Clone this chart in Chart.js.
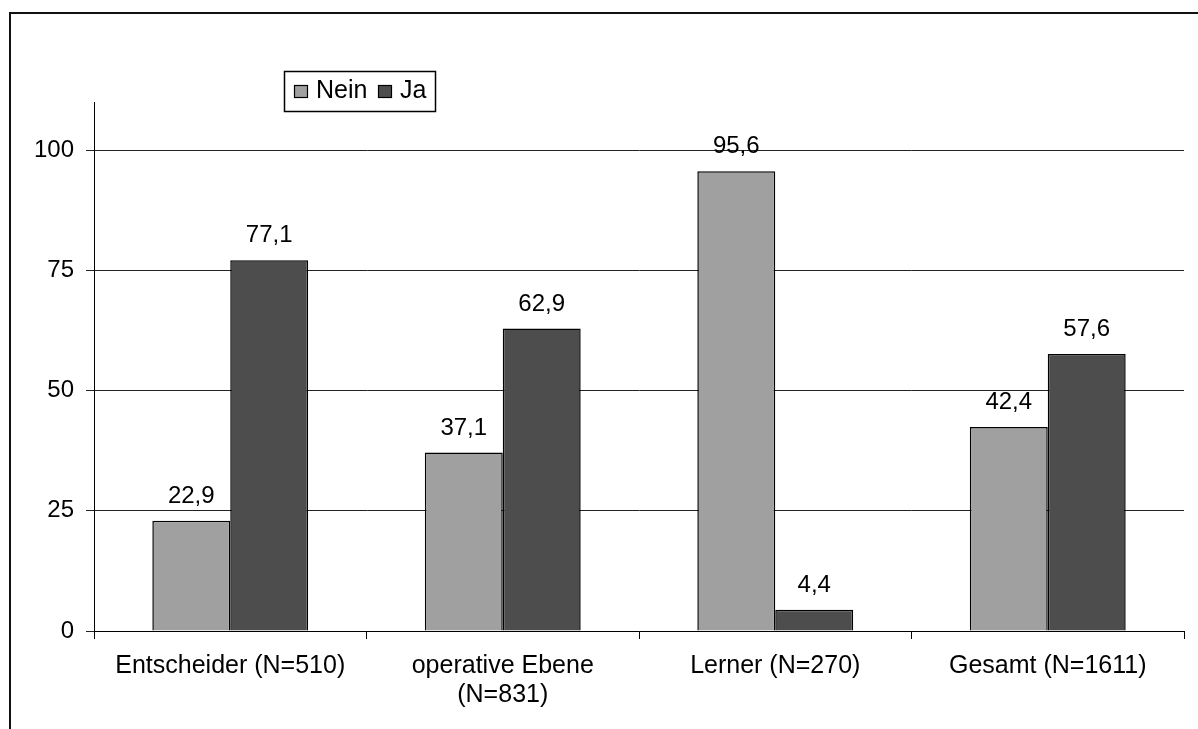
<!DOCTYPE html>
<html>
<head>
<meta charset="utf-8">
<script src="https://cdn.jsdelivr.net/npm/chart.js@4/dist/chart.umd.min.js"></script>
<style>
  html, body { margin: 0; padding: 0; background: #fff; }
  #wrap { position: relative; width: 1198px; height: 729px; overflow: hidden; }
  #frame {
    position: absolute; left: 9px; top: 12px; width: 1300px; height: 800px;
    border-top: 2px solid #111; border-left: 2px solid #111;
  }
  canvas { position: absolute; left: 0; top: 0; }
</style>
</head>
<body>
<div id="wrap">
  <div id="frame"></div>
  <canvas id="umfrageChart" width="1198" height="729"></canvas>
</div>
<script>
  const categories = [
    'Entscheider (N=510)',
    ['operative Ebene', '(N=831)'],
    'Lerner (N=270)',
    'Gesamt (N=1611)'
  ];
  const neinValues = [22.9, 37.1, 95.6, 42.4];
  const jaValues = [77.1, 62.9, 4.4, 57.6];
  const yTicks = [0, 25, 50, 75, 100];

  const FONT = '"Liberation Sans", Arial, sans-serif';

  // value above every bar, decimal comma
  const barLabels = {
    id: 'barLabels',
    afterDatasetsDraw(chart) {
      const ctx = chart.ctx;
      ctx.save();
      ctx.font = '24px ' + FONT;
      ctx.fillStyle = '#000';
      ctx.textAlign = 'center';
      ctx.textBaseline = 'alphabetic';
      chart.data.datasets.forEach((ds, i) => {
        chart.getDatasetMeta(i).data.forEach((bar, j) => {
          const txt = ds.data[j].toFixed(1).replace('.', ',');
          ctx.fillText(txt, bar.x, bar.y - 18);
        });
      });
      ctx.restore();
    }
  };

  // boxed legend inside the plot
  const boxLegend = {
    id: 'boxLegend',
    afterDraw(chart) {
      const ctx = chart.ctx;
      ctx.save();
      ctx.lineWidth = 1.5;
      ctx.strokeStyle = '#000';
      ctx.fillStyle = '#fff';
      ctx.fillRect(284, 71, 152, 41);
      ctx.strokeRect(284.5, 71.5, 151, 40);
      ctx.font = '25px ' + FONT;
      ctx.textBaseline = 'middle';
      const items = [
        { x: 294, tx: 316 },
        { x: 378, tx: 400 }
      ];
      chart.data.datasets.forEach((ds, i) => {
        const it = items[i];
        ctx.fillStyle = ds.backgroundColor;
        ctx.fillRect(it.x, 85, 14, 13);
        ctx.lineWidth = 1.2;
        ctx.strokeRect(it.x + 0.5, 85.5, 13, 12);
        ctx.fillStyle = '#000';
        ctx.fillText(ds.label, it.tx, 91);
      });
      ctx.restore();
    }
  };

  const chartEl = document.getElementById('umfrageChart');
  const umfrageChart = new Chart(chartEl, {
    type: 'bar',
    data: {
      labels: categories,
      datasets: [{
        label: 'Nein',
        data: neinValues,
        backgroundColor: '#a0a0a0',
        borderColor: '#000',
        borderWidth: 1.5
      },
      {
        label: 'Ja',
        data: jaValues,
        backgroundColor: '#4d4d4d',
        borderColor: '#000',
        borderWidth: 1.5
      }]
    },
    options: {
      responsive: false,
      animation: false,
      layout: { padding: { top: 102, right: 14, left: 0, bottom: 0 } },
      datasets: {
        bar: { categoryPercentage: 0.572, barPercentage: 1 }
      },
      plugins: {
        legend: { display: false },
        tooltip: { enabled: false }
      },
      scales: {
        x: {
          offset: true,
          afterFit(scale) { scale.height = 98; },
          grid: {
            offset: true,
            drawOnChartArea: false,
            drawTicks: true,
            tickLength: 8,
            color: '#000'
          },
          border: { color: '#000', width: 1 },
          ticks: {
            color: '#000',
            padding: 13,
            font: { family: FONT, size: 25, lineHeight: 1.16 },
            maxRotation: 0,
            autoSkip: false
          }
        },
        y: {
          min: 0,
          max: 110,
          afterFit(scale) { scale.width = 94; },
          afterBuildTicks(scale) {
            scale.ticks = yTicks.map(v => ({ value: v }));
          },
          grid: {
            color: '#222',
            lineWidth: 1,
            tickLength: 8
          },
          border: { color: '#000', width: 1 },
          ticks: {
            color: '#000',
            padding: 12,
            font: { family: FONT, size: 24 }
          }
        }
      }
    },
    plugins: [barLabels, boxLegend]
  });
</script>
</body>
</html>
